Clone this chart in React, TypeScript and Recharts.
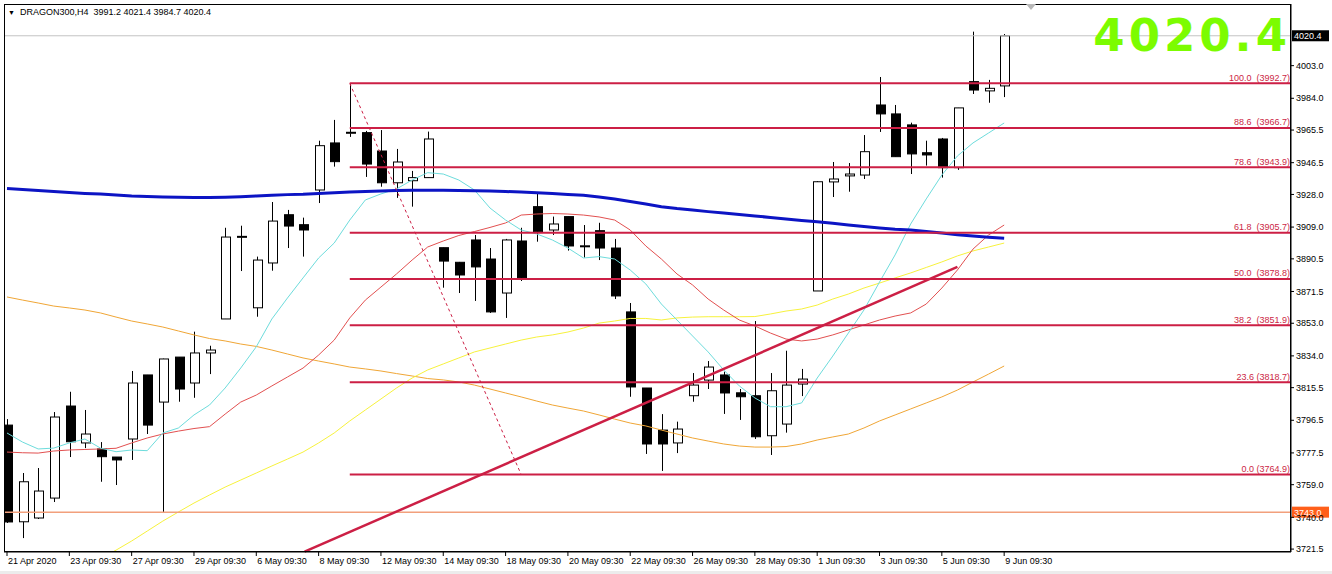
import React from 'react';
import { ComposedChart, Bar, Line, XAxis, YAxis, ReferenceLine } from 'recharts';

// H4 bars, two per trading day
const DAYS = [
  '21 Apr', '22 Apr', '23 Apr', '24 Apr', '27 Apr', '28 Apr', '29 Apr', '30 Apr',
  '6 May', '7 May', '8 May', '11 May', '12 May', '13 May', '14 May', '15 May',
  '18 May', '19 May', '20 May', '21 May', '22 May', '25 May', '26 May', '27 May',
  '28 May', '29 May', '1 Jun', '2 Jun', '3 Jun', '4 Jun', '5 Jun', '8 Jun', '9 Jun',
];
const SESSIONS = ['09:30', '13:30'];

const OPEN = [
  3793.7, 3737.4, 3739.6, 3751.2, 3804.8, 3783.3, 3779.8, 3775.1, 3785.6, 3822.9,
  3807.1, 3833.3, 3818.2, 3835.7, 3855.5, 3903.4, 3862.0, 3888.1, 3916.2, 3910.4,
  3930.6, 3958.0, 3964.0, 3964.0, 3953.3, 3934.8, 3936.0, 3937.8, 3897.0, 3888.5,
  3901.5, 3890.4, 3870.6, 3900.9, 3920.9, 3907.3, 3915.1, 3898.0, 3906.9, 3896.8,
  3859.6, 3815.3, 3790.8, 3783.3, 3810.8, 3819.9, 3822.9, 3812.5, 3810.8, 3787.5,
  3794.3, 3817.6, 3871.8, 3935.3, 3938.8, 3939.3, 3980.1, 3974.9, 3968.5, 3952.3,
  3960.3, 3943.6, 3993.7, 3988.3, 3991.2,
];
const HIGH = [
  3797.2, 3765.8, 3768.7, 3801.3, 3813.1, 3802.5, 3783.8, 3775.1, 3825.2, 3822.9,
  3832.4, 3833.3, 3848.1, 3839.9, 3908.6, 3909.8, 3891.8, 3923.6, 3919.0, 3914.5,
  3959.3, 3971.4, 3992.7, 3965.0, 3965.5, 3954.5, 3941.7, 3964.6, 3897.0, 3888.7,
  3904.4, 3896.8, 3902.1, 3908.6, 3928.8, 3915.1, 3915.1, 3910.2, 3911.5, 3902.1,
  3864.8, 3815.3, 3800.1, 3795.7, 3824.0, 3831.0, 3824.8, 3814.7, 3854.3, 3824.0,
  3837.0, 3826.4, 3935.8, 3946.9, 3946.3, 3962.6, 3996.4, 3980.1, 3969.8, 3959.3,
  3960.9, 3978.4, 4022.8, 3994.7, 4021.4,
];
const LOW = [
  3736.7, 3727.9, 3739.0, 3748.9, 3775.1, 3780.3, 3760.7, 3758.8, 3773.4, 3788.5,
  3742.5, 3807.3, 3809.6, 3823.4, 3855.5, 3883.4, 3856.8, 3883.6, 3896.8, 3891.8,
  3923.0, 3944.2, 3961.5, 3938.2, 3932.5, 3926.0, 3920.9, 3937.8, 3873.7, 3870.6,
  3866.0, 3859.0, 3856.1, 3877.6, 3900.5, 3904.4, 3895.3, 3891.2, 3889.8, 3867.1,
  3810.2, 3776.9, 3767.0, 3777.4, 3807.3, 3814.7, 3800.2, 3796.7, 3785.6, 3776.3,
  3789.3, 3810.6, 3871.8, 3926.5, 3929.6, 3937.0, 3964.4, 3950.0, 3939.9, 3944.8,
  3937.8, 3942.3, 3986.5, 3981.4, 3984.7,
];
const CLOSE = [
  3737.3, 3760.7, 3755.3, 3798.4, 3784.0, 3788.5, 3775.3, 3773.4, 3818.2, 3793.7,
  3832.2, 3814.7, 3835.7, 3837.4, 3903.2, 3903.6, 3889.8, 3912.5, 3909.6, 3907.3,
  3956.4, 3947.1, 3964.2, 3945.7, 3934.8, 3946.9, 3937.8, 3960.3, 3889.2, 3881.1,
  3885.8, 3859.6, 3901.5, 3879.4, 3906.3, 3910.8, 3898.0, 3898.1, 3896.8, 3868.9,
  3815.9, 3782.7, 3782.7, 3791.4, 3817.0, 3827.5, 3812.4, 3810.2, 3786.9, 3813.7,
  3817.0, 3820.5, 3935.4, 3937.0, 3939.9, 3952.9, 3974.9, 3950.0, 3951.6, 3951.0,
  3943.6, 3978.4, 3988.8, 3989.8, 4020.4,
];

// moving averages as drawn on the chart
const MA_CYAN = [
  3789.1, 3783.8, 3779.8, 3780.3, 3783.3, 3785.6, 3780.3, 3778.2, 3779.2, 3778.8,
  3789.1, 3792.0, 3799.6, 3805.4, 3815.3, 3826.9, 3839.3, 3855.5, 3867.7, 3879.4,
  3891.0, 3899.7, 3913.1, 3924.8, 3928.3, 3931.2, 3936.4, 3940.7, 3939.9, 3936.4,
  3930.6, 3920.1, 3913.1, 3907.3, 3905.0, 3901.5, 3896.8, 3891.0, 3891.8, 3890.4,
  3884.0, 3875.9, 3864.2, 3854.9, 3845.6, 3836.3, 3825.8, 3816.5, 3809.5, 3804.4,
  3804.4, 3806.6, 3821.1, 3833.9, 3847.3, 3860.7, 3877.0, 3892.8, 3910.8, 3925.4,
  3939.3, 3950.4, 3958.0, 3963.8, 3969.6,
];
const MA_RED = [
  3778.0, 3777.6, 3777.4, 3778.6, 3779.2, 3779.5, 3779.8, 3780.2, 3783.3, 3786.2,
  3788.5, 3790.2, 3791.7, 3792.8, 3800.1, 3807.1, 3811.2, 3816.5, 3821.7, 3826.9,
  3834.5, 3843.2, 3856.1, 3866.5, 3874.1, 3881.7, 3889.8, 3897.4, 3900.9, 3904.1,
  3906.4, 3908.8, 3911.4, 3916.0, 3916.6, 3916.9, 3916.6, 3916.0, 3914.9, 3913.1,
  3907.3, 3898.0, 3890.4, 3881.7, 3875.3, 3867.1, 3860.7, 3854.9, 3851.4, 3847.3,
  3843.8, 3842.7, 3843.8, 3846.2, 3849.1, 3852.0, 3854.9, 3857.2, 3859.0, 3864.2,
  3873.5, 3884.0, 3896.2, 3904.4, 3910.2,
];
const MA_YELLOW = [
  null, null, null, null, null, null, 3716.0, 3720.9, 3726.2, 3732.0,
  3737.8, 3743.1, 3748.3, 3753.0, 3757.6, 3761.7, 3765.8, 3769.9, 3773.9, 3778.0,
  3783.3, 3789.1, 3796.1, 3802.5, 3808.9, 3815.3, 3821.1, 3825.8, 3829.3, 3832.8,
  3836.3, 3838.6, 3840.9, 3843.2, 3845.0, 3846.2, 3847.9, 3850.2, 3853.1, 3854.3,
  3855.8, 3855.8, 3854.9, 3856.1, 3856.6, 3856.8, 3856.8, 3856.8, 3856.9, 3858.4,
  3860.1, 3861.3, 3863.6, 3867.1, 3870.0, 3873.5, 3876.4, 3879.4, 3882.3, 3885.5,
  3888.7, 3892.2, 3895.1, 3897.4, 3899.7,
];
const MA_ORANGE = [
  3868.3, 3866.5, 3864.8, 3863.0, 3861.9, 3860.7, 3859.0, 3856.6, 3854.3, 3852.6,
  3850.8, 3848.5, 3846.2, 3844.1, 3842.7, 3840.9, 3839.5, 3837.4, 3835.1, 3832.8,
  3831.0, 3829.3, 3827.5, 3826.4, 3825.2, 3823.7, 3822.3, 3820.8, 3820.0, 3818.8,
  3817.0, 3814.7, 3812.4, 3810.1, 3807.7, 3805.4, 3803.6, 3801.9, 3799.6, 3797.2,
  3794.9, 3793.2, 3790.8, 3788.5, 3786.2, 3784.4, 3782.7, 3781.5, 3780.9, 3780.9,
  3781.2, 3782.7, 3785.0, 3786.8, 3788.5, 3792.0, 3796.1, 3799.6, 3803.1, 3806.6,
  3810.1, 3814.1, 3818.8, 3823.4, 3828.1,
];
const MA_BLUE = [
  3931.5, 3930.9, 3930.3, 3929.7, 3929.1, 3928.6, 3928.3, 3927.7, 3927.1, 3926.8,
  3926.5, 3926.4, 3926.2, 3926.2, 3926.4, 3926.7, 3927.1, 3927.5, 3927.9, 3928.1,
  3928.6, 3929.0, 3929.4, 3929.7, 3930.0, 3930.3, 3930.4, 3930.4, 3930.4, 3930.3,
  3930.2, 3930.0, 3929.7, 3929.4, 3929.0, 3928.6, 3928.0, 3927.5, 3926.5, 3925.4,
  3923.9, 3922.5, 3920.9, 3919.8, 3919.0, 3918.0, 3917.2, 3916.3, 3915.5, 3914.6,
  3913.7, 3912.8, 3912.1, 3911.2, 3910.2, 3909.4, 3908.5, 3907.7, 3907.3, 3906.4,
  3905.6, 3904.6, 3903.8, 3903.1, 3902.5,
];

const FIB_LEVELS = ['100.0', '88.6', '78.6', '61.8', '50.0', '38.2', '23.6', '0.0'];
const FIB_PRICES = [3992.7, 3966.7, 3943.9, 3905.7, 3878.8, 3851.9, 3818.7, 3764.9];
const FIB_START_BAR = 23;
const FIB_BASE = [{ bar: 23, price: 3992.7 }, { bar: 34, price: 3764.9 }];
const TREND = [{ bar: 20.1, price: 3720 }, { bar: 62, price: 3885.8 }];
const SUPPORT = 3743.0;
const BID = 4020.4;

const X_TICKS = [1, 5, 9, 13, 17, 21, 25, 29, 33, 37, 41, 45, 49, 53, 57, 61, 65];
const Y_TICKS = [
  4003.0, 3984.0, 3965.5, 3946.5, 3928.0, 3909.0, 3890.5, 3871.5,
  3853.0, 3834.0, 3815.5, 3796.5, 3777.5, 3759.0, 3740.0, 3721.5,
];
const X_MIN = 0.807;
const X_MAX = 83.41;
const Y_MIN = 3719.8;
const Y_MAX = 4038.9;

const FONT = "'Liberation Sans', Arial, sans-serif";
const CRIMSON = '#cc1f45';

const barTime = (i: number) =>
  i === 1 ? '21 Apr 2020' : `${DAYS[Math.floor((i - 1) / 2)]} ${SESSIONS[(i - 1) % 2]}`;

const data = OPEN.map((o, k) => ({
  bar: k + 1,
  range: [LOW[k], HIGH[k]],
  o,
  h: HIGH[k],
  l: LOW[k],
  c: CLOSE[k],
  cyan: MA_CYAN[k],
  red: MA_RED[k],
  yellow: MA_YELLOW[k],
  orange: MA_ORANGE[k],
  blue: MA_BLUE[k],
}));

if (typeof document !== 'undefined') document.body.style.margin = '0';

const Candle = (props: any) => {
  const { x, y, width, height, payload } = props;
  if (!payload) return null;
  const { o, h, l, c } = payload;
  const top = Math.min(y, y + height);
  const span = Math.abs(height);
  const k = h === l ? 0 : span / (h - l);
  const yOf = (v: number) => top + (h - v) * k;
  const mid = Math.round(x + width / 2);
  const bodyTop = yOf(Math.max(o, c));
  const bodyH = Math.max(yOf(Math.min(o, c)) - bodyTop, 1);
  const bull = c >= o;
  return (
    <g>
      <line x1={mid + 0.5} x2={mid + 0.5} y1={top} y2={top + span} stroke="#000" strokeWidth={1} />
      <rect
        x={mid - 4 + 0.5}
        y={bodyTop}
        width={9}
        height={bodyH}
        fill={bull ? '#fff' : '#000'}
        stroke="#000"
        strokeWidth={1}
      />
    </g>
  );
};

const XTick = ({ x, y, payload }: any) => (
  <text x={x + 1} y={y} dy={6} textAnchor="start" fontSize={9} fontFamily={FONT} fill="#000">
    {barTime(payload.value)}
  </text>
);

const fibLabel = (i: number) => ({ viewBox }: any) => {
  const gap = i >= 6 ? ' ' : '  ';
  return (
    <text
      x={viewBox.x + viewBox.width - 1}
      y={viewBox.y - 2.5}
      textAnchor="end"
      fontSize={9}
      fontFamily={FONT}
      fill={CRIMSON}
      style={{ whiteSpace: 'pre' }}
    >
      {`${FIB_LEVELS[i]}${gap}(${FIB_PRICES[i].toFixed(1)})`}
    </text>
  );
};

const priceTag = (value: number, bg: string) => ({ viewBox }: any) => {
  const right = viewBox.x + viewBox.width;
  return (
    <g>
      <rect x={right + 1} y={viewBox.y - 5.5} width={37} height={11} fill={bg} />
      <text x={right + 3} y={viewBox.y + 3.5} fontSize={9} fontFamily={FONT} fill="#fff">
        {value.toFixed(1)}
      </text>
    </g>
  );
};

export default function App() {
  return (
    <div style={{ position: 'absolute', left: 0, top: 0, width: 1332, height: 574, background: '#fff', fontFamily: FONT }}>
      <ComposedChart width={1332} height={574} data={data} margin={{ top: 4, right: 0, bottom: 0, left: 4 }}>
        <XAxis
          dataKey="bar"
          type="number"
          domain={[X_MIN, X_MAX]}
          allowDataOverflow
          ticks={X_TICKS}
          interval={0}
          height={22}
          tickSize={4}
          tickMargin={2}
          axisLine={{ stroke: '#000' }}
          tickLine={{ stroke: '#000' }}
          tick={<XTick />}
        />
        <YAxis
          orientation="right"
          type="number"
          domain={[Y_MIN, Y_MAX]}
          allowDataOverflow
          ticks={Y_TICKS}
          interval={0}
          width={41}
          tickSize={3}
          tickMargin={2}
          axisLine={{ stroke: '#000' }}
          tickLine={{ stroke: '#000' }}
          tick={{ fontSize: 9, fill: '#000', fontFamily: FONT }}
          tickFormatter={(v: number) => v.toFixed(1)}
        />
        <Bar dataKey="range" barSize={10} shape={<Candle />} isAnimationActive={false} />
        <Line dataKey="orange" type="linear" stroke="#f0a636" strokeWidth={1} dot={false} activeDot={false} isAnimationActive={false} />
        <Line dataKey="yellow" type="linear" stroke="#f7f23c" strokeWidth={1} dot={false} activeDot={false} isAnimationActive={false} />
        <Line dataKey="red" type="linear" stroke="#e25050" strokeWidth={1} dot={false} activeDot={false} isAnimationActive={false} />
        <Line dataKey="cyan" type="linear" stroke="#6ddcdc" strokeWidth={1} dot={false} activeDot={false} isAnimationActive={false} />
        <Line dataKey="blue" type="linear" stroke="#0c14c4" strokeWidth={3} dot={false} activeDot={false} isAnimationActive={false} />
        <ReferenceLine y={BID} stroke="#c4c4c4" strokeWidth={1} label={priceTag(BID, '#000')} />
        <ReferenceLine y={SUPPORT} stroke="#f2a07c" strokeWidth={1.5} label={priceTag(SUPPORT, '#ff5f1a')} />
        {FIB_PRICES.map((p, i) => (
          <ReferenceLine
            key={FIB_LEVELS[i]}
            segment={[{ x: FIB_START_BAR, y: p }, { x: X_MAX, y: p }]}
            stroke={CRIMSON}
            strokeWidth={2}
            ifOverflow="visible"
            label={fibLabel(i)}
          />
        ))}
        <ReferenceLine
          segment={FIB_BASE.map((d) => ({ x: d.bar, y: d.price }))}
          stroke={CRIMSON}
          strokeWidth={1}
          strokeDasharray="3 3"
          ifOverflow="visible"
        />
        <ReferenceLine
          segment={TREND.map((d) => ({ x: d.bar, y: d.price }))}
          stroke={CRIMSON}
          strokeWidth={2.5}
          ifOverflow="visible"
        />
      </ComposedChart>
      <div style={{ position: 'absolute', left: 4, top: 4, width: 1287, height: 548, border: '1px solid #000', boxSizing: 'border-box', pointerEvents: 'none' }} />
      <div style={{ position: 'absolute', left: 8, top: 6, fontSize: 9, color: '#000', whiteSpace: 'pre', lineHeight: '12px' }}>
        <span style={{ fontSize: 7 }}>▼</span>{'  DRAGON300,H4  3991.2 4021.4 3984.7 4020.4'}
      </div>
      <div style={{ position: 'absolute', left: 1026, top: 4, width: 0, height: 0, borderLeft: '5px solid transparent', borderRight: '5px solid transparent', borderTop: '6px solid #b8b8b8' }} />
      <div style={{ position: 'absolute', right: 1332 - 1291, top: 13, fontSize: 45, lineHeight: '45px', fontWeight: 'bold', letterSpacing: 4, fontFamily: "'DejaVu Sans', Verdana, sans-serif", color: '#7cfc00' }}>
        4020.4
      </div>
      <div style={{ position: 'absolute', left: 0, top: 571, width: 1332, height: 3, background: '#ececec' }} />
    </div>
  );
}
